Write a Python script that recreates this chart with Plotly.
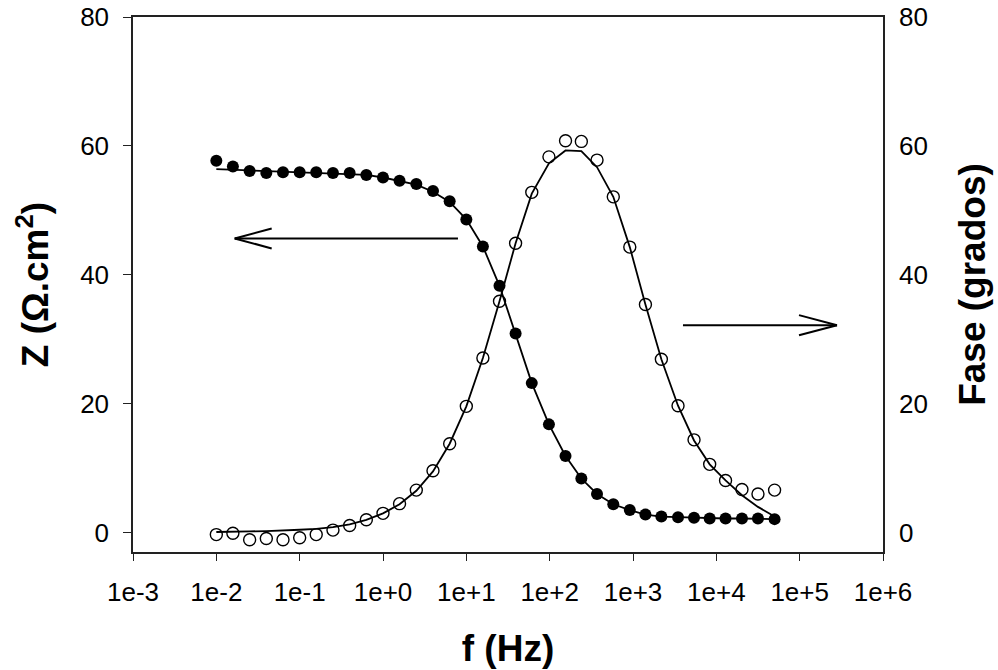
import plotly.graph_objects as go

# Frequencies (Hz)
freq = [0.01, 0.0158, 0.0251, 0.0398, 0.0631, 0.1, 0.158, 0.251, 0.398, 0.631,
        1.0, 1.58, 2.51, 3.98, 6.31, 10.0, 15.8, 25.0, 39.0, 61.0,
        98.0, 155.0, 240.0, 370.0, 580.0, 915.0, 1410.0, 2190.0, 3470.0, 5400.0,
        8320.0, 12900.0, 20300.0, 31600.0, 50000.0]

# Impedance modulus Z (ohm.cm2), experimental and fit
z_exp = [57.7, 56.8, 56.1, 55.8, 55.9, 55.9, 55.9, 55.8, 55.8, 55.5,
         55.1, 54.6, 54.1, 53.0, 51.4, 48.6, 44.4, 38.3, 30.9, 23.2,
         16.8, 11.9, 8.4, 6.0, 4.4, 3.5, 2.8, 2.5, 2.4, 2.3,
         2.2, 2.2, 2.2, 2.2, 2.1]
z_fit = [56.4, 56.3, 56.2, 56.1, 56.0, 55.95, 55.9, 55.8, 55.7, 55.5,
         55.1, 54.6, 54.0, 52.9, 51.3, 48.6, 44.4, 38.3, 30.9, 23.2,
         16.8, 11.9, 8.4, 6.0, 4.4, 3.5, 2.8, 2.5, 2.4, 2.3,
         2.2, 2.2, 2.2, 2.1, 2.1]

# Phase (degrees), experimental and fit
fase_exp = [-0.3, -0.1, -1.1, -0.9, -1.1, -0.8, -0.3, 0.4, 1.1, 2.0,
            3.0, 4.5, 6.6, 9.6, 13.8, 19.6, 27.1, 35.9, 44.9, 52.8,
            58.3, 60.8, 60.7, 57.8, 52.1, 44.3, 35.4, 26.9, 19.7, 14.4,
            10.6, 8.1, 6.7, 6.0, 6.6]
fase_fit = [0.1, 0.1, 0.2, 0.25, 0.3, 0.45, 0.6, 0.85, 1.3, 2.0,
            3.0, 4.4, 6.5, 9.5, 13.8, 19.6, 27.1, 35.9, 44.9, 52.6,
            57.3, 59.3, 59.2, 56.7, 52.1, 44.3, 35.4, 26.9, 19.7, 14.3,
            10.6, 8.1, 5.8, 4.0, 2.5]

x_tickvals = [1e-3, 1e-2, 1e-1, 1e0, 1e1, 1e2, 1e3, 1e4, 1e5, 1e6]
x_ticktext = ["1e-3", "1e-2", "1e-1", "1e+0", "1e+1", "1e+2", "1e+3", "1e+4", "1e+5", "1e+6"]
y_tickvals = [0, 20, 40, 60, 80]

FONT = "Liberation Sans, Arial, sans-serif"

fig = go.Figure()
fig.add_trace(go.Scatter(x=freq, y=z_fit, mode="lines",
                         line=dict(color="black", width=1.8), showlegend=False))
fig.add_trace(go.Scatter(x=freq, y=fase_fit, mode="lines", yaxis="y2",
                         line=dict(color="black", width=1.8), showlegend=False))
fig.add_trace(go.Scatter(x=freq, y=z_exp, mode="markers",
                         marker=dict(symbol="circle", size=12, color="black",
                                     line=dict(width=0)), showlegend=False))
fig.add_trace(go.Scatter(x=freq, y=fase_exp, mode="markers", yaxis="y2",
                         marker=dict(symbol="circle-open", size=12, color="black",
                                     line=dict(width=1.4, color="black")),
                         showlegend=False))

# Arrows (paper coordinates): shaft plus open V head
arrow_style = dict(type="line", xref="paper", yref="paper",
                   line=dict(color="black", width=2))
arrows = [
    # left arrow (points to Z axis)
    (0.4333, 0.5861, 0.1356, 0.5861),
    (0.1356, 0.5861, 0.1849, 0.6048),
    (0.1356, 0.5861, 0.1849, 0.5674),
    # right arrow (points to phase axis)
    (0.7333, 0.4240, 0.9387, 0.4240),
    (0.9387, 0.4240, 0.8880, 0.4427),
    (0.9387, 0.4240, 0.8880, 0.4053),
]
for x0, y0, x1, y1 in arrows:
    fig.add_shape(x0=x0, y0=y0, x1=x1, y1=y1, **arrow_style)

axis_common = dict(showgrid=False, zeroline=False, showline=True, automargin=False,
                   linecolor="#222", linewidth=1.5, ticklabeloverflow="allow",
                   tickfont=dict(family=FONT, size=26, color="black"))

fig.update_layout(
    width=998, height=670, autosize=False,
    margin=dict(l=133, r=115, t=17, b=118),
    plot_bgcolor="white", paper_bgcolor="white",
    font=dict(family=FONT, color="black"),
    xaxis=dict(type="log", range=[-3, 6], tickvals=x_tickvals, ticktext=x_ticktext,
               ticks="outside", ticklen=7, tickwidth=1.2, tickcolor="#222",
               mirror=True, ticklabelstandoff=9,
               title=dict(text="<b>f (Hz)</b>", font=dict(family=FONT, size=37),
                          standoff=29),
               **axis_common),
    yaxis=dict(range=[-3, 80], tickvals=y_tickvals, ticks="outside", ticklen=8,
               tickwidth=1.2, tickcolor="#222", ticklabelstandoff=9,
               title=dict(text="<b>Z (Ω.cm<sup>2</sup>)</b>",
                          font=dict(family=FONT, size=37), standoff=20),
               **axis_common),
    yaxis2=dict(range=[-3, 80], tickvals=y_tickvals, overlaying="y", side="right",
                ticks="", ticklabelstandoff=9,
                title=dict(text="<b>Fase (grados)</b>",
                           font=dict(family=FONT, size=37), standoff=32),
                **axis_common),
)

# remove the default 8px page margin so the figure fills the window exactly
fig.write_html("out.html",
               config={"displayModeBar": False},
               post_script="document.body.style.margin='0';document.body.style.overflow='hidden';")
